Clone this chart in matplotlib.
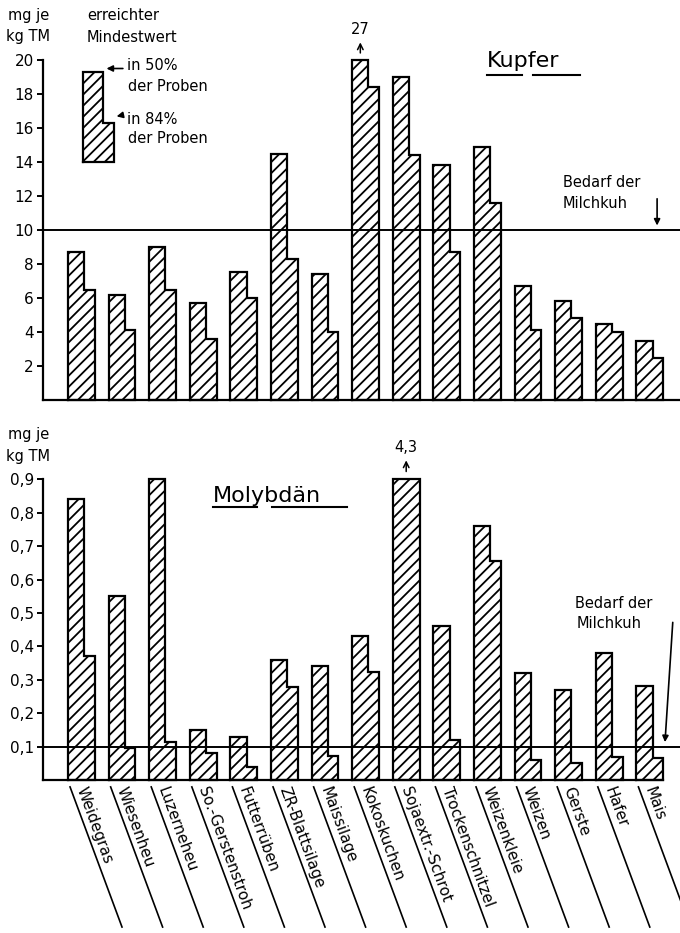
import numpy as np
import matplotlib
matplotlib.use("Agg")
import matplotlib.pyplot as plt
from matplotlib.lines import Line2D

plt.rcParams['font.family'] = ['DejaVu Sans']
plt.rcParams['hatch.linewidth'] = 1.3

# --- data -----------------------------------------------------------------
feeds = ["Weidegras", "Wiesenheu", "Luzerneheu", "So.-Gerstenstroh", "Futterrüben",
         "ZR-Blattsilage", "Maissilage", "Kokoskuchen", "Sojaextr.-Schrot",
         "Trockenschnitzel", "Weizenkleie", "Weizen", "Gerste", "Hafer", "Mais"]

# Kupfer, mg je kg TM (minimum reached in 50 % / 84 % of samples)
cu_50 = [8.7, 6.2, 9.0, 5.7, 7.55, 14.5, 7.4, 27.0, 19.0, 13.8, 14.9, 6.7, 5.8, 4.5, 3.5]
cu_84 = [6.5, 4.1, 6.5, 3.6, 6.0, 8.3, 4.0, 18.4, 14.4, 8.7, 11.6, 4.1, 4.8, 4.0, 2.45]
cu_need = 10

# Molybdän, mg je kg TM
mo_50 = [0.84, 0.55, 0.90, 0.15, 0.13, 0.36, 0.34, 0.43, 4.3, 0.46, 0.76, 0.32, 0.27, 0.38, 0.28]
mo_84 = [0.37, 0.095, 0.115, 0.082, 0.04, 0.278, 0.072, 0.324, 0.90, 0.12, 0.654, 0.06, 0.05, 0.068, 0.065]
mo_need = 0.1

cu_ticks = list(range(2, 21, 2))
mo_ticks = [0.1, 0.2, 0.3, 0.4, 0.5, 0.6, 0.7, 0.8, 0.9]
mo_ticklabels = ["0,1", "0,2", "0,3", "0,4", "0,5", "0,6", "0,7", "0,8", "0,9"]

# --- layout helpers -----------------------------------------------------
W, H = 680, 933
W50, W84 = 0.40, 0.26       # bar widths in category units
XLIM = (-0.616, 15.074)


def stepped_bars(ax, x, v50, v84, top, base=0.0, w50=W50, w84=W84):
    x = np.asarray(x, dtype=float)
    t = np.minimum(np.asarray(v50), top)
    s = np.minimum(np.asarray(v84), top)
    kw = dict(align='edge', facecolor='white', edgecolor='black',
              linewidth=0, hatch='///', zorder=2)
    ax.bar(x, t - base, width=w50, bottom=base, **kw)
    ax.bar(x + w50, s - base, width=w84, bottom=base, **kw)
    for xi, ti, si in zip(x, t, s):
        xs = [xi, xi, xi + w50, xi + w50, xi + w50 + w84, xi + w50 + w84, xi]
        ys = [base, ti, ti, si, si, base, base]
        ax.plot(xs, ys, color='black', lw=1.6, zorder=3, clip_on=False,
                solid_joinstyle='miter')


def style_axis(ax, ymax, ticks, labels):
    ax.set_xlim(*XLIM)
    ax.set_ylim(0, ymax)
    for s in ('top', 'right'):
        ax.spines[s].set_visible(False)
    ax.spines['left'].set_linewidth(1.6)
    ax.spines['bottom'].set_linewidth(1.6)
    ax.set_xticks([])
    ax.set_yticks(ticks)
    ax.set_yticklabels(labels, fontsize=11)
    ax.tick_params(axis='y', length=4.5, width=1.4, pad=2)
    ax.patch.set_alpha(0)


fig = plt.figure(figsize=(W / 100, H / 100), dpi=100)
idx = np.arange(len(feeds))

# --- Kupfer -------------------------------------------------------------
ax1 = fig.add_axes([43 / W, 1 - 400 / H, 637 / W, 340 / H])
style_axis(ax1, 20, cu_ticks, [str(t) for t in cu_ticks])
stepped_bars(ax1, idx, cu_50, cu_84, 20)
ax1.axhline(cu_need, xmin=0, xmax=1, color='black', lw=1.4, zorder=4)

# legend sample bar
stepped_bars(ax1, [0.37], [19.3], [16.3], 20, base=14, w50=0.49, w84=0.27)
ax1.annotate('', xy=(0.88, 19.5), xytext=(1.42, 19.5),
             arrowprops=dict(arrowstyle='-|>', color='black', lw=1.2, mutation_scale=9))
ax1.annotate('', xy=(1.13, 16.65), xytext=(1.42, 16.8),
             arrowprops=dict(arrowstyle='-|>', color='black', lw=1.2, mutation_scale=9))

# off-scale value for Kokoskuchen
k = feeds.index("Kokoskuchen")
ax1.annotate('', xy=(k + W50 / 2, 21.2), xytext=(k + W50 / 2, 20.25),
             arrowprops=dict(arrowstyle='->', color='black', lw=1.1), annotation_clip=False)
ax1.text(k + W50 / 2, 21.35, f"{cu_50[k]:.0f}", ha='center', va='bottom', fontsize=10.5)

# need arrow
ax1.annotate('', xy=(14.51, cu_need + 0.1), xytext=(14.51, 12.0),
             arrowprops=dict(arrowstyle='-|>', color='black', lw=1.2, mutation_scale=9))

# --- Molybdän -----------------------------------------------------------
ax2 = fig.add_axes([43 / W, 1 - 780 / H, 637 / W, 300.7 / H])
style_axis(ax2, 0.9, mo_ticks, mo_ticklabels)
stepped_bars(ax2, idx, mo_50, mo_84, 0.9)
ax2.spines['bottom'].set_bounds(XLIM[0], idx[-1] + W50 + W84)
ax2.axhline(mo_need, xmin=0, xmax=1, color='black', lw=1.4, zorder=4)

s = feeds.index("Sojaextr.-Schrot")
xc = s + (W50 + W84) / 2
ax2.annotate('', xy=(xc, 0.965), xytext=(xc, 0.915),
             arrowprops=dict(arrowstyle='->', color='black', lw=1.1), annotation_clip=False)
ax2.text(xc, 0.972, f"{mo_50[s]:.1f}".replace('.', ','), ha='center', va='bottom',
         fontsize=10.5)

ax2.annotate('', xy=(14.70, mo_need + 0.005), xytext=(14.90, 0.48),
             arrowprops=dict(arrowstyle='-|>', color='black', lw=1.2, mutation_scale=9))

# category labels with slanted underlines
xt = ax2.get_xaxis_transform()
for i, name in enumerate(feeds):
    ax2.plot([i + 0.05, i + 0.05 + 1.28], [-0.023, -0.489], color='black', lw=1.2,
             transform=xt, clip_on=False)
    ax2.annotate(name, xy=(i + 0.05, -0.023), xycoords=xt,
                 xytext=(4.5, -1.5), textcoords='offset points',
                 rotation=-70, rotation_mode='anchor', ha='left', va='baseline',
                 fontsize=11, annotation_clip=False)

# --- free texts ---------------------------------------------------------
def ftext(x, y, s, **kw):
    fig.text(x / W, 1 - y / H, s, va='baseline', **kw)

ftext(8, 20, "mg je", fontsize=10.5)
ftext(6, 41, "kg TM", fontsize=10.5)
ftext(87, 20, "erreichter", fontsize=10.5)
ftext(87, 42, "Mindestwert", fontsize=10.5)
ftext(127, 70, "in 50%", fontsize=10.5)
ftext(128, 91, "der Proben", fontsize=10.5)
ftext(127, 124, "in 84%", fontsize=10.5)
ftext(128, 143, "der Proben", fontsize=10.5)
ftext(563, 187, "Bedarf der", fontsize=10.5)
ftext(563, 208, "Milchkuh", fontsize=10.5)

ftext(8, 439, "mg je", fontsize=10.5)
ftext(6, 461, "kg TM", fontsize=10.5)
ftext(575, 608, "Bedarf der", fontsize=10.5)
ftext(577, 628, "Milchkuh", fontsize=10.5)

ftext(487, 67, "Kupfer", fontsize=16)
ftext(213, 502, "Molybdän", fontsize=16)
for x0, x1, y in [(487, 522, 75), (533, 580, 75), (213, 257, 507), (272, 347, 507)]:
    fig.add_artist(Line2D([x0 / W, x1 / W], [1 - y / H, 1 - y / H], color='black', lw=1.5))

fig.savefig("out.png", dpi=100)
